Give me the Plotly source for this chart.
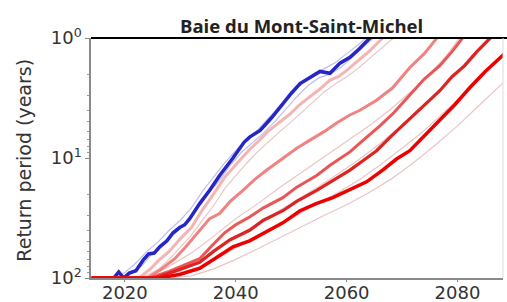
import plotly.graph_objects as go

# ---------------- data (return period in years) ----------------
blue_years = [2014, 2018.0, 2018.9, 2019.8, 2020.8, 2022.0, 2023.3, 2024.3, 2025.3, 2026.3, 2027.6, 2028.7,
              2029.9, 2030.8, 2031.7, 2033.5, 2035.3, 2037.1, 2039.5, 2041.5, 2042.5, 2043.5, 2044.4,
              2046.5, 2048.5, 2050.0, 2051.6, 2053.4, 2055.2, 2057.0, 2058.8, 2060.6, 2062.3, 2064.2, 2066.0]
blue_T = [100, 100, 89, 100, 91, 87, 71, 63, 62, 55, 49, 42, 38, 36, 32, 24, 18.6, 14, 10, 7.4, 6.7, 6.3,
          5.9, 4.6, 3.5, 2.9, 2.4, 2.14, 1.9, 1.97, 1.62, 1.45, 1.23, 1.0, 0.8]

p1_years = [2014, 2022.5, 2024.5, 2026, 2028, 2030, 2032, 2034, 2036, 2038, 2040.7, 2042.5, 2044.3, 2046,
            2048, 2049.8, 2051.5, 2053.4, 2055, 2057, 2058.5, 2060, 2062, 2064, 2066.5, 2068]
p1_T = [100, 100, 85, 72, 60, 47, 38, 27, 20, 14.5, 10.5, 8.5, 7.1, 5.9, 5.0, 4.3, 3.6, 3.1, 2.7, 2.24,
        2.1, 1.86, 1.55, 1.3, 1.0, 0.85]

p2_years = [2014, 2024.0, 2026.5, 2029.0, 2031, 2033.5, 2035.3, 2037.1, 2039, 2041.3, 2043.5, 2045.6, 2048,
            2051.0, 2053.4, 2056, 2058.2, 2060.5, 2062.4, 2065.4, 2068.3, 2070, 2071.4, 2074, 2076.2, 2078]
p2_T = [100, 100, 85, 69, 55, 40, 32, 29, 23, 18.6, 15, 12.6, 10.5, 8.3, 7.1, 6.0, 5.1, 4.4, 4.0, 3.3,
        2.6, 2.1, 1.76, 1.35, 1.0, 0.8]

r3_years = [2014, 2024.5, 2028, 2033.5, 2036, 2038, 2040, 2042.5, 2045, 2048.5, 2051, 2054.6, 2057, 2060.6,
            2063, 2066, 2068.5, 2071.4, 2074, 2076.8, 2079, 2080.9, 2083]
r3_T = [100, 100, 88, 69, 52, 42, 36, 31, 26, 21.4, 17.5, 14, 11.5, 8.9, 7.1, 5.4, 4.2, 3.0, 2.2, 1.7,
        1.3, 1.0, 0.8]

r4_years = [2014, 2025.4, 2029, 2033.5, 2036, 2039, 2042.5, 2045, 2048.5, 2051, 2054.6, 2057, 2060.6, 2063,
            2065.4, 2068, 2071.4, 2074, 2076.8, 2079, 2081.3, 2083.5, 2085.8, 2088]
r4_T = [100, 100, 88, 74, 60, 48, 40, 33, 27.5, 23, 18.6, 16, 12.6, 10.5, 8.7, 6.6, 4.7, 3.6, 2.75, 2.1,
        1.7, 1.3, 1.0, 0.8]

r5_years = [2014, 2026.3, 2030, 2033.5, 2036, 2039.5, 2042.5, 2045.5, 2048.5, 2051.6, 2054.5, 2057.5, 2060.5,
            2063.6, 2066.5, 2069, 2071.4, 2074, 2076.8, 2079.5, 2082.2, 2085, 2088.5]
r5_T = [100, 100, 93, 83, 70, 55, 49, 41, 34.7, 27.5, 24, 21.4, 18.5, 15.8, 12.6, 10.2, 8.7, 6.6, 4.9,
        3.6, 2.6, 1.9, 1.35]

# thin ensemble members
tb1_years = [2018, 2020, 2022, 2024, 2026, 2028, 2030, 2032, 2034, 2036, 2038, 2040, 2042, 2044, 2046, 2048,
             2050, 2052, 2054, 2056, 2058, 2060, 2062, 2063.5, 2065]
tb1_T = [100, 90, 75, 60, 50, 40, 33, 26, 19, 14.5, 11, 8.7, 7.0, 5.8, 4.6, 3.6, 2.9, 2.4, 2.0, 1.8, 1.6,
         1.35, 1.15, 1.0, 0.85]
tb2_years = [2019, 2021, 2023, 2025, 2027, 2029, 2031, 2033, 2035, 2037, 2039, 2041, 2043, 2045, 2047, 2049,
             2051, 2053, 2055, 2057, 2059, 2061, 2063, 2065, 2066.5]
tb2_T = [100, 92, 80, 62, 52, 43, 35, 27, 20, 15.5, 11.5, 9.0, 7.5, 6.2, 5.0, 3.9, 3.1, 2.5, 2.15, 2.0,
         1.75, 1.45, 1.2, 1.0, 0.85]
tp1_years = [2023, 2026, 2028, 2030, 2032, 2034, 2036, 2038, 2040, 2042, 2044, 2046, 2048, 2050, 2052, 2054,
             2056, 2058, 2060, 2062, 2064, 2066, 2068, 2069]
tp1_T = [100, 85, 70, 56, 44, 33, 25, 18, 14, 11, 8.8, 7.2, 6.0, 5.0, 4.1, 3.4, 2.8, 2.4, 2.1, 1.8, 1.5,
         1.25, 1.05, 0.95]
tm_years = [2024, 2028, 2032, 2036, 2040, 2044, 2048, 2052, 2056, 2060, 2064, 2068, 2072, 2075, 2078, 2080, 2081]
tm_T = [100, 80, 62, 45, 32, 24, 17.5, 13, 9.8, 7.3, 5.4, 3.9, 2.7, 2.0, 1.4, 1.05, 0.9]
tr3_years = [2025, 2030, 2034, 2038, 2042, 2046, 2050, 2054, 2058, 2062, 2066, 2070, 2074, 2078, 2082, 2085, 2086]
tr3_T = [100, 88, 70, 52, 40, 31, 24, 18.5, 14, 10.5, 7.6, 5.3, 3.6, 2.4, 1.5, 1.05, 0.95]
tr4_years = [2025, 2030, 2034, 2038, 2042, 2046, 2050, 2054, 2058, 2062, 2066, 2070, 2074, 2078, 2082, 2086, 2088.5]
tr4_T = [100, 95, 80, 63, 50, 40, 32, 25, 20, 15.5, 11.5, 8.3, 5.9, 4.0, 2.7, 1.75, 1.35]
tr5_years = [2027, 2032, 2036, 2040, 2044, 2048, 2052, 2056, 2060, 2064, 2068, 2072, 2076, 2080, 2084, 2088.5]
tr5_T = [100, 96, 84, 70, 57, 46, 37, 30, 24.5, 19.5, 15, 11, 7.8, 5.4, 3.6, 2.3]

x_ticks = [2020, 2040, 2060, 2080]
y_ticks = [1, 10, 100]
y_ticktext = ["10<sup>0</sup>", "10<sup>1</sup>", "10<sup>2</sup>"]
title_text = "Baie du Mont-Saint-Michel"
y_title = "Return period (years)"

# ---------------- figure ----------------
fig = go.Figure()

thin_blue = "rgba(110,110,225,0.45)"
thin_red = "rgba(215,150,150,0.55)"

for xs, ys in [(tb1_years, tb1_T), (tb2_years, tb2_T)]:
    fig.add_trace(go.Scatter(x=xs, y=ys, mode="lines", line=dict(color=thin_blue, width=1.2)))

fig.add_trace(go.Scatter(x=blue_years, y=blue_T, mode="lines",
                         line=dict(color="rgb(38,38,200)", width=3.5)))

for xs, ys in [(tp1_years, tp1_T), (tm_years, tm_T), (tr3_years, tr3_T), (tr4_years, tr4_T), (tr5_years, tr5_T)]:
    fig.add_trace(go.Scatter(x=xs, y=ys, mode="lines", line=dict(color=thin_red, width=1.2)))

thick = [
    (p1_years, p1_T, "rgb(245,180,180)", 3),
    (p2_years, p2_T, "rgb(240,130,130)", 3),
    (r3_years, r3_T, "rgb(236,85,85)", 3),
    (r4_years, r4_T, "rgb(222,35,35)", 3.2),
    (r5_years, r5_T, "rgb(238,0,0)", 3.5),
]
for xs, ys, c, w in thick:
    fig.add_trace(go.Scatter(x=xs, y=ys, mode="lines", line=dict(color=c, width=w)))

tick_font = dict(family="DejaVu Sans", size=18, color="#333333")

fig.update_layout(
    width=507, height=302,
    margin=dict(l=91, r=4, t=38, b=24, pad=0),
    paper_bgcolor="white", plot_bgcolor="white",
    showlegend=False,
    xaxis=dict(range=[2013.9, 2088.2], tickvals=x_ticks, ticks="outside", ticklen=2,
               tickcolor="#8a8a8a", showline=True, linecolor="#8a8a8a", linewidth=1.5,
               showgrid=False, zeroline=False, tickfont=tick_font, automargin=False,
               ticklabelstandoff=-4),
    yaxis=dict(type="log", range=[2, 0], tickvals=y_ticks, ticktext=y_ticktext,
               ticks="outside", ticklen=4, tickcolor="#8a8a8a", showline=True,
               linecolor="#8a8a8a", linewidth=1.5, showgrid=False, zeroline=False,
               tickfont=tick_font, automargin=False,
               minor=dict(tickvals=[2, 3, 4, 5, 6, 7, 8, 9, 20, 30, 40, 50, 60, 70, 80, 90],
                          ticks="outside", ticklen=2.5, tickcolor="#9a9a9a", showgrid=False)),
    shapes=[
        dict(type="line", xref="paper", yref="paper", x0=0, x1=1.01, y0=1, y1=1,
             line=dict(color="black", width=2)),
        dict(type="line", xref="paper", yref="paper", x0=1, x1=1, y0=0, y1=1,
             line=dict(color="#dddddd", width=1)),
    ],
    annotations=[
        dict(text="<b>" + title_text + "</b>", xref="paper", yref="paper", x=0.511, y=1.053,
             xanchor="center", yanchor="middle", showarrow=False,
             font=dict(family="Open Sans", size=18.5, color="#222222")),
        dict(text=y_title, xref="paper", yref="paper", x=-0.162, y=0.49, textangle=-90,
             xanchor="center", yanchor="middle", showarrow=False,
             font=dict(family="DejaVu Sans", size=19, color="#333333")),
    ],
)

fig.write_html("out.html", config={"displayModeBar": False},
               post_script="document.body.style.margin='0';document.body.style.overflow='hidden';")
